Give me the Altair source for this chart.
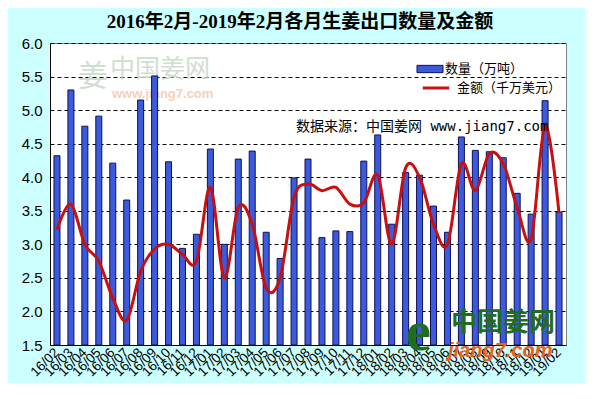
import altair as alt
import pandas as pd

months = ["16/02","16/03","16/04","16/05","16/06","16/07","16/08","16/09","16/10","16/11","16/12",
          "17/01","17/02","17/03","17/04","17/05","17/06","17/07","17/08","17/09","17/10","17/11","17/12",
          "18/01","18/02","18/03","18/04","18/05","18/06","18/07","18/08","18/09","18/10","18/11","18/12",
          "19/01","19/02"]
quantity = [4.32, 5.30, 4.76, 4.91, 4.21, 3.66, 5.15, 5.51, 4.23, 2.94, 3.15,
            4.42, 3.00, 4.27, 4.39, 3.18, 2.79, 3.99, 4.27, 3.10, 3.20, 3.19, 4.24,
            4.63, 3.30, 4.07, 4.03, 3.57, 3.18, 4.60, 4.40, 4.38, 4.29, 3.76, 3.45,
            5.14, 3.48]
amount = [3.22, 3.60, 3.00, 2.75, 2.20, 1.87, 2.60, 2.93, 3.00, 2.85, 2.75,
          3.85, 2.50, 3.55, 3.30, 2.35, 2.50, 3.70, 3.90, 3.80, 3.85, 3.60, 3.62,
          4.03, 3.00, 4.14, 4.00, 3.30, 3.00, 4.20, 3.80, 4.35, 4.20, 3.55, 3.08,
          4.77, 3.47]
y_ticks = [1.5, 2.0, 2.5, 3.0, 3.5, 4.0, 4.5, 5.0, 5.5, 6.0]

qty_label = "数量（万吨）"
amt_label = "金额（千万美元）"
title_text = "2016年2月-2019年2月各月生姜出口数量及金额"
source_text = "数据来源：中国姜网 www.jiang7.com"

df = pd.DataFrame({"month": months, "qty": quantity, "amt": amount,
                   "s1": qty_label, "s2": amt_label})

W, H = 516, 302
font = "Noto Sans CJK SC"

x = alt.X("month:N", sort=None, title=None,
          scale=alt.Scale(paddingInner=0, paddingOuter=0),
          axis=alt.Axis(labelAngle=-45, labelAlign="right", labelBaseline="middle",
                        labelFontSize=13.5, labelColor="#000", labelPadding=5,
                        labelOverlap=False, ticks=False, domainColor="#000",
                        labelFont="Liberation Sans"))
yscale = alt.Scale(domain=[1.5, 6.0], nice=False, zero=False)
yaxis = alt.Axis(values=y_ticks, format=".1f",
                 labelFontSize=15, labelColor="#000", labelFont="Liberation Sans",
                 labelOverlap=False, ticks=False, domainColor="#000", grid=True,
                 gridColor="#000", gridDash=[4, 3], gridWidth=1, labelPadding=8)

base = alt.Chart(df)

bars = base.mark_bar(size=6, stroke="#10105a", strokeWidth=1).encode(
    x=x,
    y=alt.Y("qty:Q", scale=yscale, axis=yaxis, title=None),
    y2=alt.datum(1.5),
    fill=alt.Fill("s1:N", scale=alt.Scale(domain=[qty_label], range=["#3b5bdc"]),
                  legend=alt.Legend(title=None, orient="none", legendX=371, legendY=17,
                                    symbolType="M-1.6,-0.45H1.6V0.45H-1.6Z", symbolSize=264,
                                    symbolStrokeColor="#10105a", symbolStrokeWidth=1,
                                    labelOffset=6,
                                    labelFontSize=13, labelFont=font, labelColor="#000")),
)

line = base.mark_line(interpolate="cardinal", strokeWidth=3).encode(
    x=x,
    y=alt.Y("amt:Q", scale=yscale, axis=yaxis, title=None),
    stroke=alt.Stroke("s2:N", scale=alt.Scale(domain=[amt_label], range=["#c81010"]),
                      legend=alt.Legend(title=None, orient="none", legendX=371, legendY=30,
                                        symbolType="stroke", symbolSize=700, symbolStrokeWidth=3,
                                        labelOffset=6,
                                        labelFontSize=13, labelFont=font, labelColor="#000")),
)

one = pd.DataFrame({"t": [0]})
src = alt.Chart(one).mark_text(text=source_text, font="DejaVu Sans Mono, Noto Sans CJK SC",
                               fontSize=14, align="left",
                               baseline="middle", color="#000").encode(
    x=alt.value(246), y=alt.value(84))

wm1 = alt.Chart(one).mark_text(text="中国姜网", font=font, fontSize=25, align="left",
                               baseline="middle", color="#c9d8c9", opacity=0.85).encode(
    x=alt.value(60), y=alt.value(26))
wm2 = alt.Chart(one).mark_text(text="www.jiang7.com", font="Liberation Sans", fontSize=13,
                               fontWeight="bold", align="left", baseline="middle",
                               color="#f5cdb0", opacity=0.9).encode(
    x=alt.value(62), y=alt.value(51))
wm0 = alt.Chart(one).mark_text(text="姜", font=font, fontSize=30, align="left",
                               baseline="middle", color="#c9d8c9", opacity=0.85).encode(
    x=alt.value(28), y=alt.value(34))

logo1 = alt.Chart(one).mark_text(text="中国姜网", font=font, fontSize=26, fontWeight="bold",
                                 align="left", baseline="middle", color="#1f6e1f").encode(
    x=alt.value(401), y=alt.value(280))
logo2 = alt.Chart(one).mark_text(text="jiang7.com", font="Liberation Sans", fontSize=20,
                                 fontWeight="bold", fontStyle="italic", align="left",
                                 baseline="middle", color="#f06018").encode(
    x=alt.value(398), y=alt.value(308))
logo0 = alt.Chart(one).mark_text(text="e", font="Liberation Serif", fontSize=56,
                                 fontWeight="bold", align="left", baseline="middle",
                                 color="#1f6e1f").encode(
    x=alt.value(356), y=alt.value(290))

chart = alt.layer(wm0, wm1, wm2, bars, line, logo0, logo1, logo2, src).properties(
    width=W, height=H,
    title=alt.TitleParams(title_text, font="Liberation Serif, Noto Sans CJK SC",
                          fontSize=19, fontWeight="bold", color="#000", offset=4,
                          anchor="middle", dx=-8),
    padding={"left": 42, "top": 35, "right": 19, "bottom": 38},
    autosize=alt.AutoSizeParams(type="none"),
).configure(background="#ccffff").configure_view(stroke="#808080", fill="white")

chart.save("out.html", embed_options={"renderer": "svg", "actions": False})
